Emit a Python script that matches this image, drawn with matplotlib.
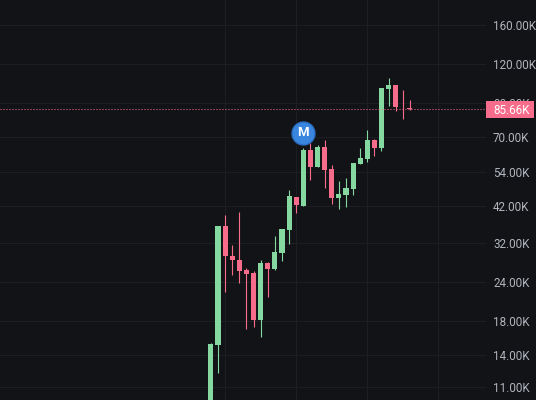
import matplotlib
matplotlib.use("Agg")
import matplotlib.pyplot as plt
from matplotlib.patches import Rectangle

# daily candles, prices in thousands
opens = [9.5, 15.1, 36.1, 29.1, 28.1, 26.1, 25.7, 18.06, 27.5, 26.3, 29.6, 35.1, 45.0,
         42.1, 63.6, 55.9, 65.1, 55.3, 44.4, 45.7, 47.7, 57.4, 59.6, 68.5, 64.3, 99.8,
         102.8, 87.4, 86.8]
highs = [15.3, 36.1, 39.4, 31.4, 40.1, 26.5, 25.9, 28.1, 27.7, 33.6, 35.3, 47.1, 45.0,
         64.3, 67.0, 66.0, 68.2, 57.0, 50.4, 51.8, 57.8, 64.3, 73.8, 69.0, 100.5, 108.2,
         102.8, 98.6, 92.0]
lows = [9.5, 12.2, 22.2, 25.3, 23.7, 16.9, 17.2, 16.0, 21.4, 26.1, 27.9, 31.8, 40.0,
        42.1, 51.0, 55.9, 48.1, 42.7, 41.2, 41.8, 45.7, 57.4, 58.3, 60.6, 63.2, 87.6,
        84.4, 80.0, 85.3]
closes = [15.2, 36.1, 29.0, 28.1, 26.0, 25.5, 18.06, 27.5, 26.3, 29.8, 35.3, 45.1, 42.2,
          63.6, 55.9, 65.1, 54.9, 44.4, 46.0, 48.1, 57.8, 60.0, 68.5, 64.3, 100.5, 102.8,
          86.9, 87.0, 85.66]

tick_vals = [11, 14, 18, 24, 32, 42, 54, 70, 90, 120, 160]
tick_labels = ["11.00K", "14.00K", "18.00K", "24.00K", "32.00K", "42.00K", "54.00K",
               "70.00K", "90.00K", "120.00K", "160.00K"]
vlines = [2, 12, 22, 32]
last_price = 85.66
marker_idx = 13
marker_price = 72.2

BG = "#121316"
GRID = "#1d1e22"
GREEN = "#84d8a0"
RED = "#f76c8a"
W, H = 536, 400
PANE = 485 / W

plt.rcParams["font.family"] = ["Roboto", "DejaVu Sans"]

fig = plt.figure(figsize=(W / 100, H / 100), dpi=100, facecolor=BG)
ax = fig.add_axes([0, 0, 1, 1], facecolor=BG)
ax.set_yscale("log")
ax.set_xlim(-29.68, 45.74)
ax.set_ylim(10.03, 192.0)
ax.axis("off")

for t in tick_vals:
    ax.plot([0, PANE], [t, t], transform=ax.get_yaxis_transform(), color=GRID, lw=0.8, zorder=1)
for v in vlines:
    ax.axvline(v, ymin=0, ymax=1, color=GRID, lw=0.8, zorder=1)

for i in range(len(opens)):
    col = GREEN if closes[i] >= opens[i] else RED
    ax.plot([i, i], [lows[i], highs[i]], color=col, lw=0.8, zorder=3, solid_capstyle="butt")
    bot, top = min(opens[i], closes[i]), max(opens[i], closes[i])
    ax.add_patch(Rectangle((i - 0.36, bot), 0.72, top - bot, facecolor=col, edgecolor="none", zorder=4))

ax.plot([0, PANE], [last_price, last_price], transform=ax.get_yaxis_transform(), color=RED,
        lw=0.8, dashes=(0.9, 1.8), zorder=5)

# M marker above the candle
ax.plot([marker_idx], [marker_price], "o", ms=16.5, mfc="#3a86de", mec="#2a6fc4", mew=1, zorder=6)
ax.text(marker_idx, marker_price, "M", color="white", fontsize=9.5, fontweight="bold",
        ha="center", va="center", zorder=7)

for t, lab in zip(tick_vals, tick_labels):
    ax.text(493 / W, t, lab, transform=ax.get_yaxis_transform(), color="#b2b5be", fontsize=8.4,
            ha="left", va="center_baseline", zorder=6)

# price tag on the axis
ax.add_patch(Rectangle((486 / W, 1 - 118 / H), 48 / W, 17 / H, transform=ax.transAxes,
                       facecolor=RED, edgecolor="none", zorder=8))
ax.text(493 / W, last_price, "85.66K", transform=ax.get_yaxis_transform(), color="white",
        fontsize=8.4, ha="left", va="center_baseline", zorder=9)

fig.savefig("out.png", dpi=100, facecolor=BG)
